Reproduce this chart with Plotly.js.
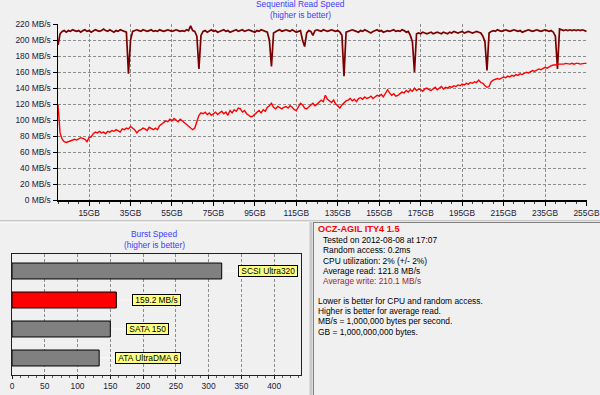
<!DOCTYPE html>
<html><head><meta charset="utf-8">
<script src="https://cdn.plot.ly/plotly-3.0.1.min.js"></script>
<style>html,body{margin:0;padding:0;background:#f0f0f0;}#chart{width:600px;height:395px;}</style>
</head><body><div id="chart"></div>
<script>
// Sequential read speed, sampled every 1 GB from 0 to 255 GB (MB/s)
const readSpeed = [
119,84,76,73,72,73,74,74,76,75,
77,78,77,76,73,78,79,83,85,84,
86,84,85,83,86,85,87,86,88,86,
85,89,88,90,89,92,90,88,84,87,
88,90,89,87,91,89,88,90,88,93,
95,97,99,98,101,99,102,100,98,101,
99,97,95,92,91,88,90,97,106,109,
108,110,107,109,106,108,110,107,109,111,
108,110,106,112,109,113,111,115,114,110,
112,108,106,104,105,107,110,112,109,113,
111,116,118,121,116,114,117,115,114,116,
117,115,118,116,113,112,116,121,119,115,
114,117,119,121,118,120,122,125,123,131,
126,124,122,125,120,118,115,119,122,124,
125,127,124,126,123,127,128,126,129,127,
128,130,127,129,131,130,132,129,133,138,
134,131,133,130,131,133,135,134,137,135,
138,136,140,137,139,138,136,139,140,138,
137,139,141,138,140,142,139,141,140,142,
141,143,142,144,143,145,144,146,145,147,
146,148,147,150,147,146,143,141,142,148,
150,151,152,151,153,154,153,155,154,156,
155,157,156,158,157,159,160,159,161,162,
161,163,164,163,165,166,165,167,168,169,
169,170,170,170,170,171,170,170,171,170,
171,171,170,171,171,171
];
const writeSpeed = [
194,208,211,212,210,212,211,213,212,211,
212,210,212,213,211,212,210,211,213,212,
211,212,214,212,211,213,212,210,212,211,
213,212,211,210,158,200,211,212,213,212,
211,213,212,211,212,213,211,212,211,213,
212,211,212,213,212,211,212,213,212,211,
212,211,213,212,218,212,211,205,164,206,
211,212,210,212,213,211,212,210,211,212,
213,211,212,210,211,212,213,211,212,213,
211,212,213,212,211,210,212,211,213,212,
211,210,200,167,209,211,212,213,211,212,
213,212,211,213,212,210,211,212,200,192,
209,212,211,206,212,213,212,211,213,212,
211,212,213,212,211,212,210,206,155,210,
211,212,213,212,211,210,212,211,213,212,
211,209,211,212,213,211,212,210,211,212,
211,212,213,211,212,211,213,212,210,211,
206,198,160,208,209,208,210,209,208,209,
210,208,209,210,209,208,210,209,208,210,
209,211,210,209,210,211,209,210,211,210,
209,210,211,210,209,205,198,162,209,211,
212,211,213,212,211,212,213,212,211,212,
213,212,211,212,210,211,212,213,212,211,
212,213,212,211,212,213,212,211,212,210,
205,164,214,213,212,213,212,213,212,213,
212,213,212,213,212,211
];
const yTickVals = [0,20,40,60,80,100,120,140,160,180,200,220];
const yTickText = ["0 MB/s","20 MB/s","40 MB/s","60 MB/s","80 MB/s","100 MB/s","120 MB/s","140 MB/s","160 MB/s","180 MB/s","200 MB/s","220 MB/s"];
const xTickVals = [15,35,55,75,95,115,135,155,175,195,215,235,255];
const xTickText = ["15GB","35GB","55GB","75GB","95GB","115GB","135GB","155GB","175GB","195GB","215GB","235GB","255GB"];

// Burst speed comparison
const burstCats = ["SCSI Ultra320","159.2 MB/s","SATA 150","ATA UltraDMA 6"];
const burstVals = [320,159.2,150,133];
const burstColors = ["#808080","#ff0000","#808080","#808080"];
const burstTicks = [0,50,100,150,200,250,300,350,400];

// Info panel
const driveName = "OCZ-AGIL ITY4 1.5";
const infoLines = ["Tested on 2012-08-08 at 17:07","Random access: 0.2ms","CPU utilization: 2% (+/- 2%)","Average read: 121.8 MB/s"];
const writeLine = "Average write: 210.1 MB/s";
const noteLines = ["Lower is better for CPU and random access.","Higher is better for average read.","MB/s = 1,000,000 bytes per second.","GB = 1,000,000,000 bytes."];

const W = 600, H = 395;
const FONT = "Liberation Sans, Arial, sans-serif";
const FS = 8.4;
const px = v => v / W;
const py = v => 1 - v / H;
const tickFont = {family: FONT, size: FS, color: "#202038"};

const traces = [
  {type:"scatter", mode:"lines", x0:0, dx:1, y:writeSpeed, xaxis:"x", yaxis:"y",
   line:{color:"#7a0000", width:1.7}, hoverinfo:"skip"},
  {type:"scatter", mode:"lines", x0:0, dx:1, y:readSpeed, xaxis:"x", yaxis:"y",
   line:{color:"#ff0000", width:1.4}, hoverinfo:"skip"},
  {type:"bar", orientation:"h", x:burstVals, y:burstCats, xaxis:"x2", yaxis:"y2",
   width:0.55, marker:{color:burstColors, line:{color:"#000000", width:1}}, hoverinfo:"skip"}
];

const annotations = [
  {text:"Sequential Read Speed", xref:"paper", yref:"paper", x:0.5, y:py(4.5), showarrow:false,
   font:{family:FONT, size:FS, color:"#3c3cff"}, xanchor:"center", yanchor:"middle"},
  {text:"(higher is better)", xref:"paper", yref:"paper", x:0.5, y:py(15), showarrow:false,
   font:{family:FONT, size:FS, color:"#3c3cff"}, xanchor:"center", yanchor:"middle"},
  {text:"Burst Speed", xref:"paper", yref:"paper", x:px(154), y:py(234), showarrow:false,
   font:{family:FONT, size:FS, color:"#3c3cff"}, xanchor:"center", yanchor:"middle"},
  {text:"(higher is better)", xref:"paper", yref:"paper", x:px(154), y:py(245), showarrow:false,
   font:{family:FONT, size:FS, color:"#3c3cff"}, xanchor:"center", yanchor:"middle"},
  {text:"<b>"+driveName+"</b>", xref:"paper", yref:"paper", x:px(316), y:py(229), showarrow:false,
   font:{family:FONT, size:9.2, color:"#ff0000"}, xanchor:"left", yanchor:"middle"}
];
infoLines.forEach((t,i) => annotations.push({text:t, xref:"paper", yref:"paper", x:px(321), y:py(240 + i*10.3),
  showarrow:false, font:{family:FONT, size:FS, color:"#000000"}, xanchor:"left", yanchor:"middle"}));
annotations.push({text:writeLine, xref:"paper", yref:"paper", x:px(321), y:py(240 + 4*10.3),
  showarrow:false, font:{family:FONT, size:FS, color:"#a02828"}, xanchor:"left", yanchor:"middle"});
noteLines.forEach((t,i) => annotations.push({text:t, xref:"paper", yref:"paper", x:px(315.5), y:py(301 + i*10.2),
  showarrow:false, font:{family:FONT, size:FS, color:"#000000"}, xanchor:"left", yanchor:"middle"}));
burstCats.forEach((c,i) => annotations.push({text:"&nbsp;"+c+"&nbsp;", x:burstVals[i], y:c, xref:"x2", yref:"y2",
  showarrow:false, xanchor:"left", yanchor:"middle", xshift:16,
  bgcolor:"#ffff80", bordercolor:"#000000", borderwidth:1, borderpad:0,
  font:{family:FONT, size:FS, color:"#000000"}}));

const shapes = [
  {type:"line", xref:"paper", yref:"paper", x0:0, x1:1, y0:py(221), y1:py(221), line:{color:"#a0a0a0", width:1}},
  {type:"line", xref:"paper", yref:"paper", x0:0, x1:1, y0:py(222), y1:py(222), line:{color:"#ffffff", width:1}},
  {type:"line", xref:"paper", yref:"paper", x0:px(311), x1:px(311), y0:py(222), y1:0, line:{color:"#c8c8c8", width:3}},
  {type:"line", xref:"paper", yref:"paper", x0:px(313.5), x1:px(313.5), y0:py(222.5), y1:0, line:{color:"#808080", width:1}},
  {type:"line", xref:"paper", yref:"paper", x0:px(313), x1:1, y0:py(222.5), y1:py(222.5), line:{color:"#808080", width:1}}
];
burstCats.forEach((c,i) => shapes.push({type:"line", xref:"x2", yref:"y2", xsizemode:"pixel", xanchor:burstVals[i],
  x0:1, x1:16, y0:c, y1:c, line:{color:"#fafafa", width:1}, layer:"below"}));

const gridStyle = {gridcolor:"#8c8c8c", griddash:"3px,2px", gridwidth:1};
const layout = {
  width:W, height:H, margin:{l:0,r:0,t:0,b:0},
  paper_bgcolor:"#f0f0f0", plot_bgcolor:"#f0f0f0", showlegend:false,
  font:{family:FONT, size:FS},
  xaxis:Object.assign({domain:[px(58), px(587)], range:[0,255.25], tickmode:"array", tickvals:xTickVals, ticktext:xTickText,
    showline:true, linecolor:"#000000", linewidth:1.5, ticks:"outside", ticklen:4, tickcolor:"#000000",
    minor:{dtick:5, tick0:0, ticks:"outside", ticklen:2, tickcolor:"#404040", showgrid:false},
    tickfont:tickFont, zeroline:false, fixedrange:true}, gridStyle),
  yaxis:Object.assign({domain:[py(200), py(24)], range:[0,220.25], tickmode:"array", tickvals:yTickVals, ticktext:yTickText,
    showline:true, linecolor:"#000000", linewidth:1.5, ticks:"outside", ticklen:4, tickcolor:"#000000",
    tickfont:tickFont, zeroline:false, fixedrange:true}, gridStyle),
  xaxis2:Object.assign({domain:[px(12), px(301)], range:[0,441], tickvals:burstTicks, anchor:"y2",
    showline:true, mirror:true, linecolor:"#202020", linewidth:1.2, ticks:"outside", ticklen:3, tickcolor:"#202020",
    minor:{dtick:12.5, tick0:0, ticks:"outside", ticklen:2, tickcolor:"#606060", showgrid:false},
    tickfont:tickFont, zeroline:false, fixedrange:true}, gridStyle),
  yaxis2:{domain:[py(375), py(254)], anchor:"x2", type:"category", categoryarray:burstCats, categoryorder:"array",
    range:[3.586,-0.586], showticklabels:false, showgrid:false, showline:true, mirror:true,
    linecolor:"#202020", linewidth:1.2, ticks:"", zeroline:false, fixedrange:true},
  annotations:annotations, shapes:shapes
};
Plotly.newPlot("chart", traces, layout, {staticPlot:true, displayModeBar:false});
</script></body></html>
